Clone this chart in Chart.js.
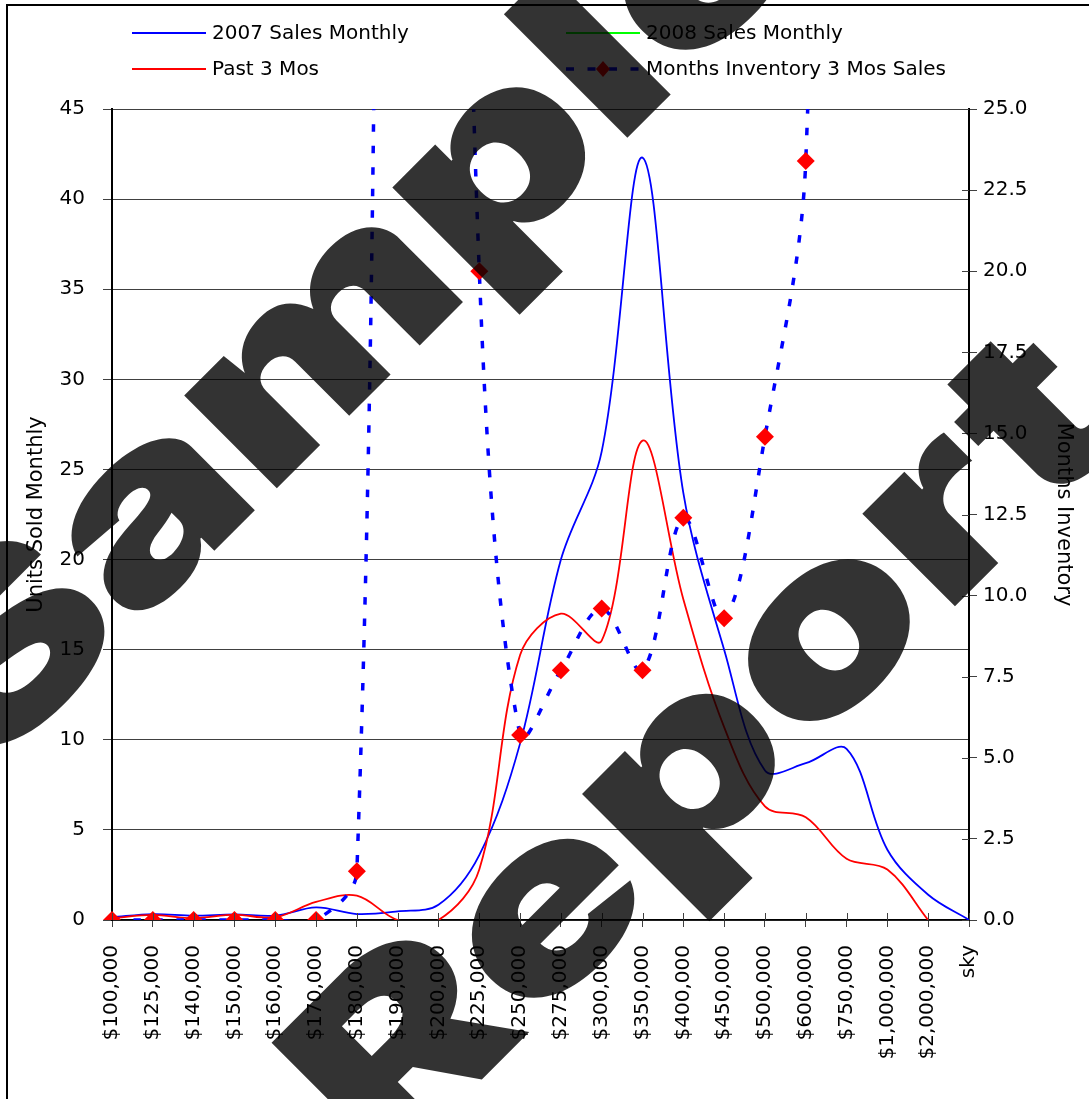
<!DOCTYPE html>
<html>
<head>
<meta charset="utf-8">
<script src="https://cdn.jsdelivr.net/npm/chart.js@4.4.1/dist/chart.umd.min.js"></script>
<style>
  html, body { margin: 0; padding: 0; background: #fff; }
  canvas { display: block; }
</style>
</head>
<body>
<canvas id="chart" width="1089" height="1099"></canvas>
<script>
// price bands on the x axis
const categories = ['$100,000', '$125,000', '$140,000', '$150,000', '$160,000', '$170,000',
  '$180,000', '$190,000', '$200,000', '$225,000', '$250,000', '$275,000', '$300,000',
  '$350,000', '$400,000', '$450,000', '$500,000', '$600,000', '$750,000', '$1,000,000',
  '$2,000,000', 'sky'];

// units sold monthly (left axis)
const sales2007 = [0.15, 0.33, 0.24, 0.31, 0.24, 0.7, 0.33, 0.48, 0.85, 3.6, 9.8, 20.0,
  26.0, 42.3, 23.7, 15.0, 8.3, 8.7, 9.5, 3.9, 1.4, 0];
const sales2008 = [];
const past3Mos = [0.1, 0.28, 0.1, 0.3, 0.15, 1.0, 1.35, 0, 0, 2.8, 14.7, 17.0,
  15.5, 26.6, 17.8, 10.7, 6.3, 5.7, 3.4, 2.8, 0, null];

// months of inventory (right axis), several bands run far off the top
const monthsInventory = [0, 0, 0, 0, 0, 0, 1.5, 70, 70, 20.0, 5.7, 7.7,
  9.6, 7.7, 12.4, 9.3, 14.9, 23.4, 80, 100, 130, null];

const leftMax = 45, leftStep = 5;
const rightMax = 25, rightStep = 2.5;

const FONT = 'DejaVu Sans';
const INV_DASH = [7.5, 14];

// legend, frame and the watermark are painted by hand
const decorations = {
  id: 'decorations',
  afterDraw(chart) {
    const ctx = chart.ctx;
    const { chartArea } = chart;
    ctx.save();

    // tick marks that cross into the plot
    ctx.strokeStyle = '#404040';
    ctx.lineWidth = 1;
    const xs = chart.scales.x;
    xs.ticks.forEach((t, i) => {
      const px = Math.round(xs.getPixelForTick(i)) + 0.5;
      ctx.beginPath();
      ctx.moveTo(px, chartArea.bottom - 7);
      ctx.lineTo(px, chartArea.bottom);
      ctx.stroke();
    });
    const r = chart.scales.y1;
    r.ticks.forEach((t, i) => {
      const py = Math.round(r.getPixelForTick(i)) + 0.5;
      ctx.beginPath();
      ctx.moveTo(chartArea.right - 7, py);
      ctx.lineTo(chartArea.right, py);
      ctx.stroke();
    });

    // legend (two columns)
    const items = [
      { text: '2007 Sales Monthly', color: '#0000FF', x: 132, y: 33 },
      { text: '2008 Sales Monthly', color: '#00FF00', x: 566, y: 33 },
      { text: 'Past 3 Mos', color: '#FF0000', x: 132, y: 69 },
      { text: 'Months Inventory 3 Mos Sales', color: '#0000FF', x: 566, y: 69, dash: true }
    ];
    ctx.font = '20px "' + FONT + '"';
    ctx.textBaseline = 'middle';
    items.forEach(it => {
      ctx.beginPath();
      ctx.strokeStyle = it.color;
      if (it.dash) {
        ctx.lineWidth = 3.5;
        ctx.setLineDash([8, 13.5]);
      } else {
        ctx.lineWidth = 2;
        ctx.setLineDash([]);
      }
      ctx.moveTo(it.x, it.y);
      ctx.lineTo(it.x + 74, it.y);
      ctx.stroke();
      ctx.setLineDash([]);
      if (it.dash) {
        const cx = it.x + 37, cy = it.y;
        ctx.fillStyle = '#FF0000';
        ctx.beginPath();
        ctx.moveTo(cx, cy - 8);
        ctx.lineTo(cx + 7, cy);
        ctx.lineTo(cx, cy + 8);
        ctx.lineTo(cx - 7, cy);
        ctx.closePath();
        ctx.fill();
      }
      ctx.fillStyle = '#000';
      ctx.fillText(it.text, it.x + 80, it.y + 1);
    });

    // outer frame
    ctx.strokeStyle = '#000';
    ctx.lineWidth = 2;
    ctx.beginPath();
    ctx.moveTo(7, chart.height);
    ctx.lineTo(7, 5);
    ctx.lineTo(chart.width, 5);
    ctx.stroke();

    // watermark
    ctx.fillStyle = 'rgba(0,0,0,0.8)';
    ctx.font = '900 240px Inter';
    ctx.textBaseline = 'alphabetic';
    ctx.rotate(-Math.PI / 4);
    ctx.scale(1.3, 1);
    ctx.fillText('Sample', -559 / 1.3, 541);
    ctx.fillText('Report', -560 / 1.3, 1104);
    ctx.restore();
  }
};

const tickFont = { family: FONT, size: 20 };

new Chart(document.getElementById('chart'), {
  type: 'line',
  data: {
    labels: categories,
    datasets: [
      {
        label: '2007 Sales Monthly',
        data: sales2007,
        borderColor: '#0000FF',
        borderWidth: 1.8,
        pointRadius: 0,
        tension: 0.35,
        yAxisID: 'y',
        order: 4
      },
      {
        label: '2008 Sales Monthly',
        data: sales2008,
        borderColor: '#00FF00',
        borderWidth: 1.8,
        pointRadius: 0,
        tension: 0.35,
        yAxisID: 'y',
        order: 3
      },
      {
        label: 'Past 3 Mos',
        data: past3Mos,
        borderColor: '#FF0000',
        borderWidth: 1.8,
        pointRadius: 0,
        tension: 0.35,
        yAxisID: 'y',
        order: 2
      },
      {
        label: 'Months Inventory 3 Mos Sales',
        data: monthsInventory,
        borderColor: '#0000FF',
        borderWidth: 3.5,
        borderDash: INV_DASH,
        pointStyle: 'rectRot',
        pointRadius: 9,
        pointBackgroundColor: '#FF0000',
        pointBorderWidth: 0,
        pointBorderColor: '#FF0000',
        tension: 0.35,
        yAxisID: 'y1',
        order: 1
      }
    ]
  },
  options: {
    responsive: false,
    devicePixelRatio: 1,
    animation: false,
    layout: { padding: { top: 109, left: 0, right: 0, bottom: 0 } },
    elements: { line: { capBezierPoints: false } },
    plugins: {
      legend: { display: false },
      tooltip: { enabled: false }
    },
    scales: {
      x: {
        type: 'category',
        offset: false,
        grid: { drawOnChartArea: false, tickLength: 7, color: '#404040' },
        border: { color: '#000', width: 1.5 },
        ticks: {
          autoSkip: false,
          minRotation: 90,
          maxRotation: 90,
          padding: 18,
          color: '#000',
          font: tickFont
        },
        afterFit: s => { s.height = 179; }
      },
      y: {
        position: 'left',
        min: 0,
        max: leftMax,
        ticks: { stepSize: leftStep, padding: 18, color: '#000', font: tickFont },
        grid: { color: '#404040', tickLength: 9 },
        border: { color: '#000', width: 2 },
        title: {
          display: true,
          text: 'Units Sold Monthly',
          color: '#000',
          font: { family: FONT, size: 21 },
          padding: { top: 24, bottom: 0 }
        },
        afterFit: s => { s.width = 112; }
      },
      y1: {
        position: 'right',
        min: 0,
        max: rightMax,
        ticks: {
          stepSize: rightStep,
          padding: 6,
          color: '#000',
          font: tickFont,
          callback: v => Number(v).toFixed(1)
        },
        grid: { drawOnChartArea: false, tickLength: 8, color: '#404040' },
        border: { color: '#000', width: 2 },
        title: {
          display: true,
          text: 'Months Inventory',
          color: '#000',
          font: { family: FONT, size: 21 },
          padding: { top: 13, bottom: 0 }
        },
        afterFit: s => { s.width = 120; }
      }
    }
  },
  plugins: [decorations]
});
</script>
</body>
</html>
